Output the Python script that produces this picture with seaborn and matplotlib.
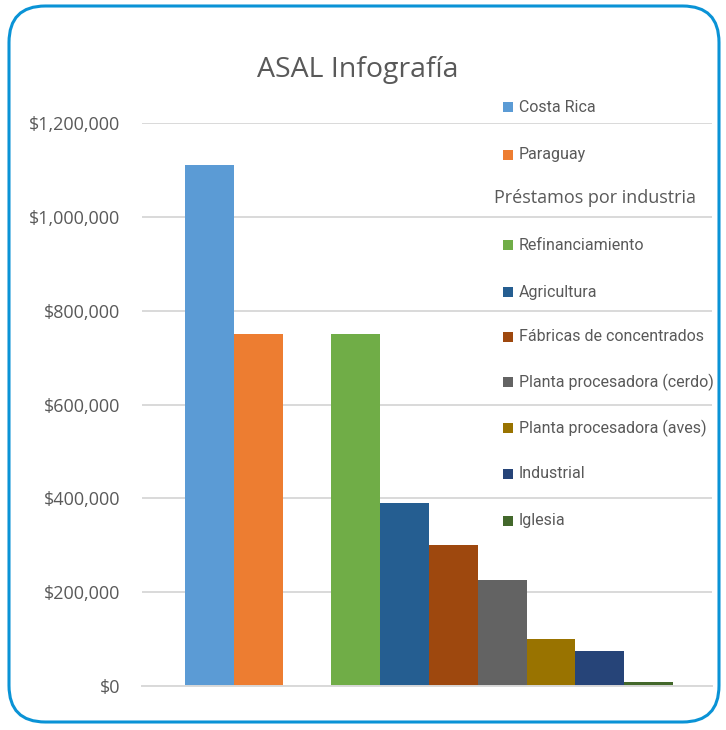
import matplotlib
matplotlib.use("Agg")
import matplotlib.pyplot as plt
import seaborn as sns
import pandas as pd
from matplotlib.patches import FancyBboxPatch, Rectangle
from matplotlib.ticker import FuncFormatter

series = ["Costa Rica", "Paraguay", "Préstamos por industria", "Refinanciamiento",
          "Agricultura", "Fábricas de concentrados", "Planta procesadora (cerdo)",
          "Planta procesadora (aves)", "Industrial", "Iglesia"]
values = [1110000, 750000, 0, 750000, 390000, 300000, 225000, 100000, 75000, 8000]
colors = ["#5B9BD5", "#ED7D31", "#FFFFFF", "#70AD47", "#255E91", "#9E480E",
          "#636363", "#997300", "#264478", "#43682B"]
y_ticks = [0, 200000, 400000, 600000, 800000, 1000000, 1200000]
title = "ASAL Infografía"

df = pd.DataFrame({"serie": series, "valor": values})

sns.set_theme(style="white")
plt.rcParams["font.family"] = ["Open Sans", "DejaVu Sans"]

fig = plt.figure(figsize=(7.26, 7.30), dpi=100)
W, H = 726, 730
ax = fig.add_axes([142 / W, 1 - 686 / H, (712 - 142) / W, (686 - 123) / H])

sns.barplot(data=df, x="serie", y="valor", hue="serie", palette=colors,
            width=1.0, legend=False, ax=ax, saturation=1, linewidth=0)

ax.set_xlim(-1.38, 10.3)
ax.set_ylim(0, 1200000)
ax.set_yticks(y_ticks)
ax.yaxis.set_major_formatter(FuncFormatter(lambda v, p: "${:,.0f}".format(v)))
ax.tick_params(axis="y", length=0, pad=15.5, labelsize=13, labelcolor="#595959")
ax.set_xticks([])
ax.set_xlabel("")
ax.set_ylabel("")
ax.grid(axis="y", color="#D9D9D9", linewidth=1.4)
ax.set_axisbelow(True)
for s in ["top", "right", "left"]:
    ax.spines[s].set_visible(False)
ax.spines["bottom"].set_color("#D9D9D9")
ax.spines["bottom"].set_linewidth(1.4)

fig.text(358 / W, 1 - 70 / H, title, ha="center", va="center",
         fontsize=20.5, color="#595959", family=["Open Sans", "DejaVu Sans"])

# manual legend
leg_y = [107, 155, 198, 245, 292, 337, 382, 428, 474, 521]
narrow = ["Roboto", "DejaVu Sans"]
for name, col, yy in zip(series, colors, leg_y):
    if name == "Préstamos por industria":
        fig.text(494 / W, 1 - yy / H, name, ha="left", va="center",
                 fontsize=13, color="#595959", family=["Open Sans", "DejaVu Sans"])
        continue
    fig.add_artist(Rectangle((503 / W, 1 - (yy + 5) / H), 10 / W, 10 / H,
                             transform=fig.transFigure, facecolor=col,
                             edgecolor="none"))
    fig.text(519 / W, 1 - yy / H, name, ha="left", va="center",
             fontsize=11.5, color="#595959", family=narrow)

# rounded border
fig.add_artist(FancyBboxPatch((9 / W, 8 / H), (719 - 9) / W, (724 - 8) / H,
                              boxstyle="round,pad=0,rounding_size=0.05",
                              transform=fig.transFigure, facecolor="none",
                              edgecolor="#0A93D6", linewidth=2.2))

fig.savefig("out.png", dpi=100)
